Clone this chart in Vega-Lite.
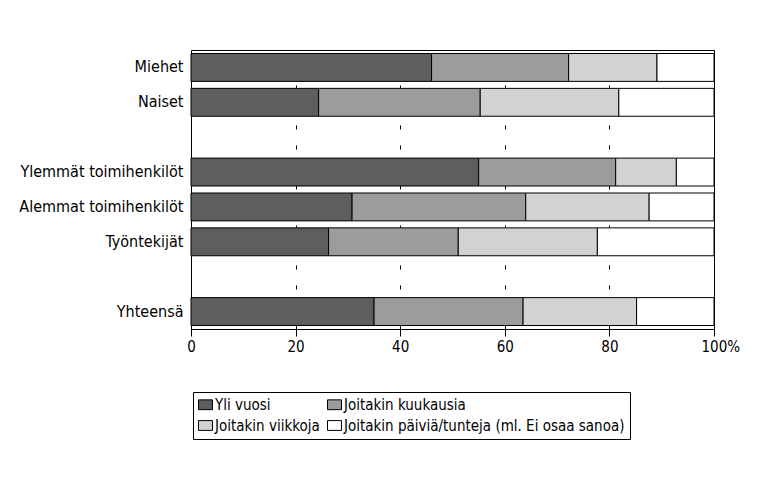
{
  "$schema": "https://vega.github.io/schema/vega-lite/v6.json",
  "width": 523,
  "height": 279,
  "autosize": {"type": "none"},
  "padding": {"left": 191, "top": 50, "right": 56, "bottom": 148},
  "background": "white",
  "config": {
    "font": "'DejaVu Sans Condensed', 'Liberation Sans', sans-serif",
    "view": {"stroke": "black", "strokeWidth": 1},
    "axis": {"labelFont": "'DejaVu Sans Condensed', 'Liberation Sans', sans-serif", "labelFontSize": 15, "labelColor": "black"}
  },
  "data": {
    "values": [
      {"group": "Miehet", "cat": "Yli vuosi", "k": 1, "value": 46.0},
      {"group": "Miehet", "cat": "Joitakin kuukausia", "k": 2, "value": 26.2},
      {"group": "Miehet", "cat": "Joitakin viikkoja", "k": 3, "value": 16.9},
      {"group": "Miehet", "cat": "Joitakin päiviä/tunteja (ml. Ei osaa sanoa)", "k": 4, "value": 10.9},
      {"group": "Naiset", "cat": "Yli vuosi", "k": 1, "value": 24.4},
      {"group": "Naiset", "cat": "Joitakin kuukausia", "k": 2, "value": 30.9},
      {"group": "Naiset", "cat": "Joitakin viikkoja", "k": 3, "value": 26.5},
      {"group": "Naiset", "cat": "Joitakin päiviä/tunteja (ml. Ei osaa sanoa)", "k": 4, "value": 18.2},
      {"group": "Ylemmät toimihenkilöt", "cat": "Yli vuosi", "k": 1, "value": 55.0},
      {"group": "Ylemmät toimihenkilöt", "cat": "Joitakin kuukausia", "k": 2, "value": 26.2},
      {"group": "Ylemmät toimihenkilöt", "cat": "Joitakin viikkoja", "k": 3, "value": 11.6},
      {"group": "Ylemmät toimihenkilöt", "cat": "Joitakin päiviä/tunteja (ml. Ei osaa sanoa)", "k": 4, "value": 7.2},
      {"group": "Alemmat toimihenkilöt", "cat": "Yli vuosi", "k": 1, "value": 30.8},
      {"group": "Alemmat toimihenkilöt", "cat": "Joitakin kuukausia", "k": 2, "value": 33.2},
      {"group": "Alemmat toimihenkilöt", "cat": "Joitakin viikkoja", "k": 3, "value": 23.6},
      {"group": "Alemmat toimihenkilöt", "cat": "Joitakin päiviä/tunteja (ml. Ei osaa sanoa)", "k": 4, "value": 12.4},
      {"group": "Työntekijät", "cat": "Yli vuosi", "k": 1, "value": 26.3},
      {"group": "Työntekijät", "cat": "Joitakin kuukausia", "k": 2, "value": 24.8},
      {"group": "Työntekijät", "cat": "Joitakin viikkoja", "k": 3, "value": 26.6},
      {"group": "Työntekijät", "cat": "Joitakin päiviä/tunteja (ml. Ei osaa sanoa)", "k": 4, "value": 22.3},
      {"group": "Yhteensä", "cat": "Yli vuosi", "k": 1, "value": 35.0},
      {"group": "Yhteensä", "cat": "Joitakin kuukausia", "k": 2, "value": 28.5},
      {"group": "Yhteensä", "cat": "Joitakin viikkoja", "k": 3, "value": 21.7},
      {"group": "Yhteensä", "cat": "Joitakin päiviä/tunteja (ml. Ei osaa sanoa)", "k": 4, "value": 14.8}
    ]
  },
  "mark": {"type": "bar", "stroke": "black", "strokeWidth": 1},
  "encoding": {
    "y": {
      "field": "group",
      "type": "nominal",
      "scale": {
        "domain": ["Miehet", "Naiset", " ", "Ylemmät toimihenkilöt", "Alemmat toimihenkilöt", "Työntekijät", "  ", "Yhteensä"],
        "paddingInner": 0.2,
        "paddingOuter": 0.1
      },
      "axis": {"title": null, "ticks": false, "domain": false, "labelPadding": 8, "grid": false, "labelLimit": 200, "labelFontSize": 16}
    },
    "x": {
      "field": "value",
      "type": "quantitative",
      "stack": "zero",
      "scale": {"domain": [0, 100], "nice": false},
      "axis": {
        "title": null,
        "values": [0, 20, 40, 60, 80, 100],
        "labelExpr": "datum.value == 100 ? '100%' : datum.label",
        "labelFlush": false,
        "labelAlign": {"condition": {"test": "datum.value == 100", "value": "left"}, "value": "center"},
        "labelOffset": {"condition": {"test": "datum.value == 100", "value": -13}, "value": 0},
        "tickSize": 7,
        "tickColor": "black",
        "domainColor": "black",
        "labelPadding": 3,
        "grid": true,
        "gridColor": "black",
        "gridDash": [4, 16],
        "gridWidth": 1,
        "gridOpacity": 1
      }
    },
    "color": {
      "field": "cat",
      "type": "nominal",
      "scale": {
        "domain": ["Yli vuosi", "Joitakin kuukausia", "Joitakin viikkoja", "Joitakin päiviä/tunteja (ml. Ei osaa sanoa)"],
        "range": ["#5e5e5e", "#9c9c9c", "#d2d2d2", "#ffffff"]
      },
      "legend": {
        "title": null,
        "orient": "none",
        "legendX": 2,
        "legendY": 342,
        "direction": "horizontal",
        "columns": 2,
        "columnPadding": 5,
        "rowPadding": 5,
        "symbolType": "M-1,-0.7H1V0.7H-1Z",
        "symbolSize": 196,
        "symbolStrokeColor": "black",
        "symbolStrokeWidth": 1,
        "symbolOpacity": 1,
        "labelFont": "'DejaVu Sans Condensed', 'Liberation Sans', sans-serif",
        "labelFontSize": 15,
        "labelColor": "black",
        "labelOffset": 2,
        "labelLimit": 400,
        "strokeColor": "black",
        "padding": 5
      }
    },
    "order": {"field": "k", "type": "quantitative"}
  }
}
